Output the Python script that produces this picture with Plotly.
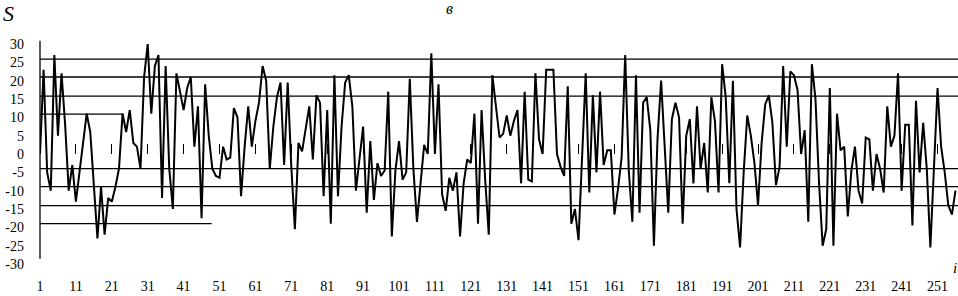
import plotly.graph_objects as go

# ---- data ----
S_values = [
    0, 23, -5, -10, 27, 5, 22, 8, -10, -3,            # 1-10
    -13, -5, 2, 11, 6, -10, -23, -9, -22, -12,         # 11-20
    -13, -9, -4, 11, 6, 12, 3, 2, -4, 21,              # 21-30
    30, 11, 24, 27, -12, 24, -4, -15, 22, 17,          # 31-40
    12, 18, 21, 2, 13, -17.5, 19, 5, -4, -6,           # 41-50
    -6.5, 2, -1.5, -1, 12.5, 10, -11.5, 2, 13, 2,      # 51-60
    9, 14, 24, 20, -4, 7.5, 15.5, 19.5, -3, 19.5,      # 61-70
    -3.5, -20.5, 3, 0.7, 6.5, 13, -1.5, 16, 14, -11.5, # 71-80
    12, -19, 21.5, -11.5, 7.5, 19.5, 21.5, 13, -10, -1,  # 81-90
    7.5, -16, 3.5, -12.5, -2.5, -6, -4.5, 17, -22.5, -4.5,  # 91-100
    3.5, -7, -5, 20.5, -4, -18.5, -8, 2.5, 0, 27.5,    # 101-110
    0, 19, -11, -15.5, -6.5, -10, -5, -22.5, -8, -1.5, # 111-120
    -2.5, 11, -19, 12, -7, -22, 21.5, 13, 4.5, 5.5,    # 121-130
    10.5, 5, 9, 12, -8, 17, -7, -7.5, 22, 4,           # 131-140
    0, 23, 23, 23, 0, -3.5, -6, 18.5, -19, -15,        # 141-150
    -23.5, -2, 22, -10.5, 16, -5, 17, -3, 1, 1,        # 151-160
    -16.5, -9.5, -1, 27, -4.5, -18.5, 21.5, -16, 14, 15.5,  # 161-170
    6.5, -25, 4, 20, 1, -16, 9.5, 14, 10, -19,         # 171-180
    5, 9.5, -8, 13, -4, 3, -10.5, 15.5, 9, -10.5,      # 181-190
    24.5, 15.5, -8, 20, -15, -25.5, -5, 10.5, 5, -2.5, # 191-200
    -14, 3, 13.5, 16, 8.5, -8.5, -3.5, 24, 2, 22.5,    # 201-210
    21.5, 17.5, 0, 6.5, -18.5, 24.5, 15, -8, -25, -20.5,  # 211-220
    18, -25, 11, 1, 2, -17, -4.5, 2, -10, -13.5,       # 221-230
    4.5, 4, -10, 0, -4, -10.5, 13, 2, 5, 22,           # 231-240
    -10, 8, 8, -19.5, 14.5, -5, 8.5, -4, -25.5, -5,    # 241-250
    18, 2, -5, -14, -16.5, -10,                        # 251-256
]
i_values = list(range(1, len(S_values) + 1))

# horizontal reference levels (full width)
full_levels = [25.9, 21.0, 15.8, -4.0, -8.9, -14.1]
# shorter reference levels and where they end (in i units)
short_levels = [10.9, -19.0]
short_level_ends = [24.2, 48.8]

x_tick_vals = list(range(1, 252, 10))
x_tick_text = [str(v) for v in x_tick_vals]
y_tick_vals = list(range(-30, 31, 5))
y_tick_text = [str(v) for v in y_tick_vals]

X_RANGE = [1, 256.7]
Y_RANGE = [-30, 30]
SERIF = "Liberation Serif"

fig = go.Figure()

line_kw = dict(color="black", width=1.3)
for lv in full_levels:
    fig.add_trace(go.Scatter(x=X_RANGE, y=[lv, lv], mode="lines", line=line_kw,
                             hoverinfo="skip", showlegend=False))
for lv, end in zip(short_levels, short_level_ends):
    fig.add_trace(go.Scatter(x=[1, end], y=[lv, lv], mode="lines", line=line_kw,
                             hoverinfo="skip", showlegend=False))

fig.add_trace(go.Scatter(x=i_values, y=S_values, mode="lines",
                         line=dict(color="black", width=2),
                         showlegend=False))

# dummy trace so the zero-line tick axis is drawn
fig.add_trace(go.Scatter(x=[X_RANGE[0]], y=[None], xaxis="x2", yaxis="y",
                         showlegend=False, hoverinfo="skip"))

fig.update_layout(
    width=958, height=296,
    margin=dict(l=40, r=0, t=43.5, b=32, pad=0, autoexpand=False),
    paper_bgcolor="white", plot_bgcolor="white",
    font=dict(family=SERIF, size=14, color="black"),
    xaxis=dict(range=X_RANGE, tickmode="array", tickvals=x_tick_vals,
               ticktext=x_tick_text, showgrid=False, zeroline=False,
               showline=False, ticks="", ticklabelstandoff=12,
               automargin=False, tickfont=dict(family=SERIF, size=14)),
    xaxis2=dict(range=X_RANGE, overlaying="x", anchor="free", position=0.5,
                side="bottom", tickmode="array", tickvals=x_tick_vals,
                ticks="inside", ticklen=10, tickwidth=1, tickcolor="black",
                showticklabels=False, showgrid=False, zeroline=False,
                showline=False, automargin=False),
    yaxis=dict(range=Y_RANGE, tickmode="array", tickvals=y_tick_vals,
               ticktext=y_tick_text, showgrid=False, zeroline=False,
               showline=False, ticks="", ticklabelstandoff=15,
               automargin=False, tickfont=dict(family=SERIF, size=14)),
    shapes=[dict(type="line", xref="paper", yref="paper", x0=0, x1=0,
                 y0=0.0233, y1=1.015, line=dict(color="black", width=1.3))],
    annotations=[
        dict(text="S", xref="paper", yref="paper", x=-0.0343, y=1.14,
             xanchor="center", yanchor="middle", showarrow=False,
             font=dict(family=SERIF, size=22, style="italic")),
        dict(text="в", xref="paper", yref="paper", x=0.4466, y=1.162,
             xanchor="center", yanchor="middle", showarrow=False,
             font=dict(family=SERIF, size=16, style="italic")),
        dict(text="i", xref="paper", yref="paper", x=0.9967, y=-0.02,
             xanchor="center", yanchor="middle", showarrow=False,
             font=dict(family=SERIF, size=15, style="italic")),
    ],
)

fig.write_html(
    "out.html",
    config={"displayModeBar": False},
    post_script="document.body.style.margin='0px';document.body.style.padding='0px';",
)
